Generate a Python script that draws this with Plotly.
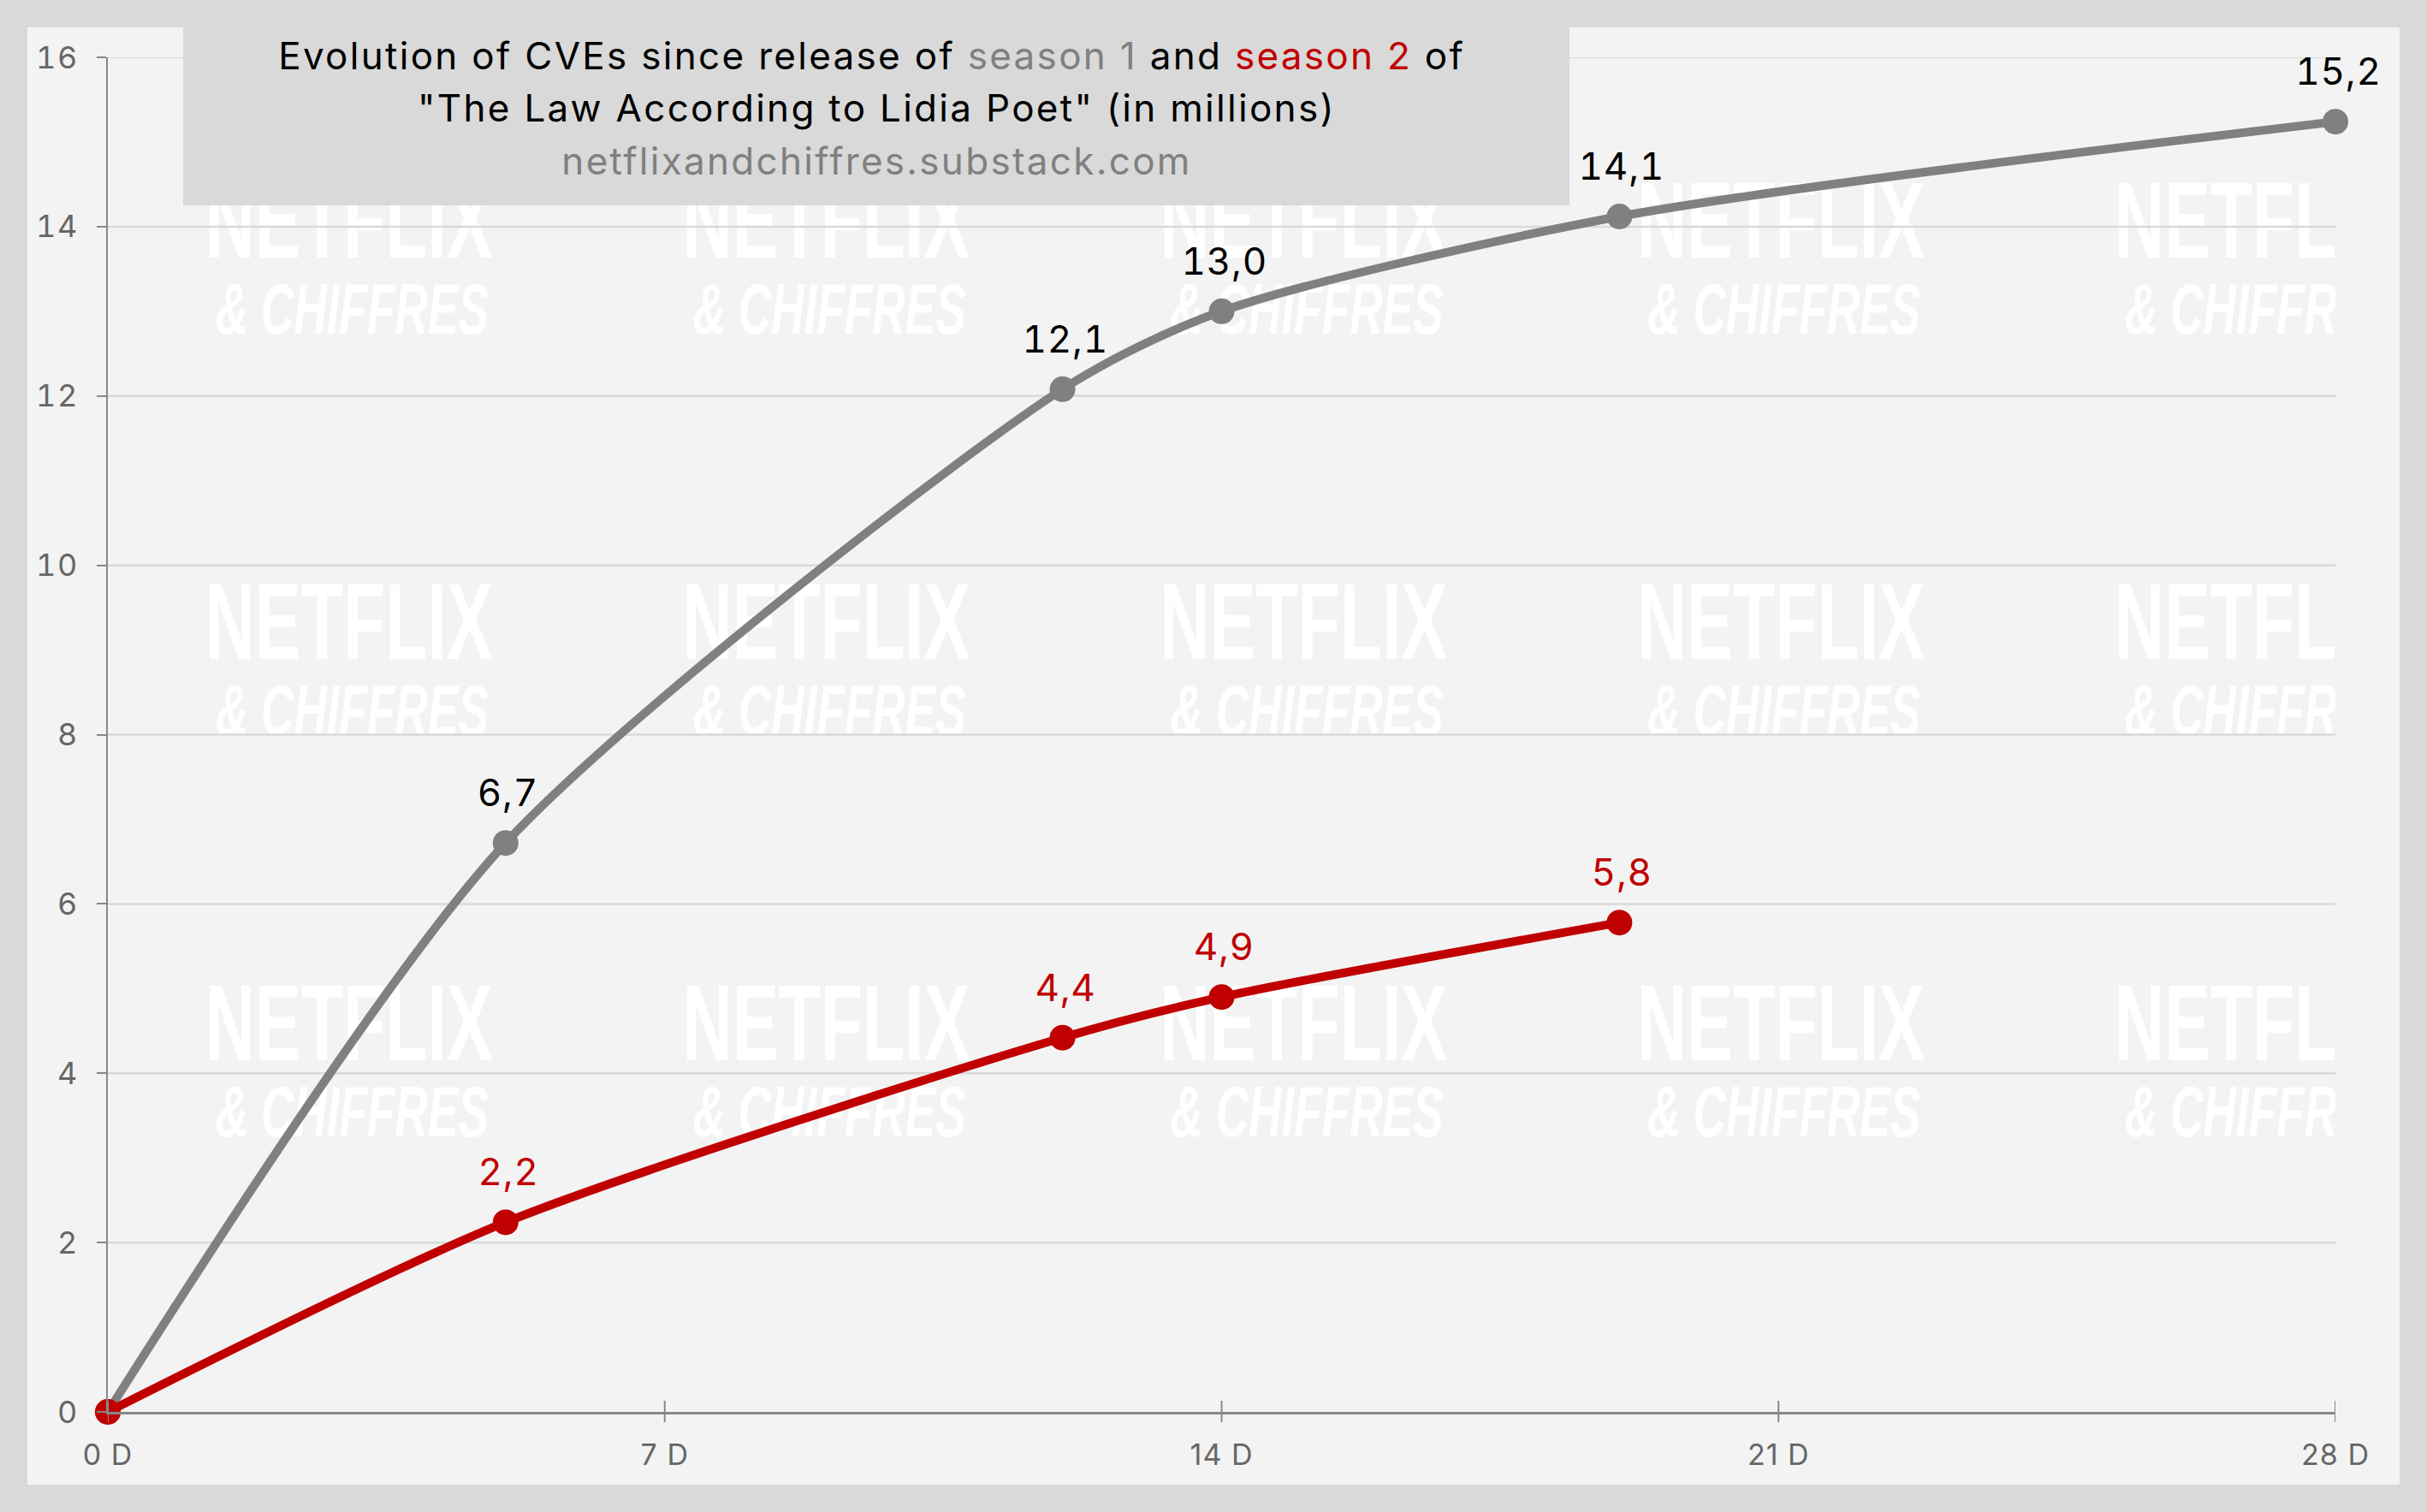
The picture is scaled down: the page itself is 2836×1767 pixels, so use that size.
import plotly.graph_objects as go

W, H = 2836, 1767
L, R, T, B = 126, 2729, 67, 1650

days_s1 = [0, 5, 12, 14, 19, 28]
cve_s1 = [0, 6.72, 12.08, 13.0, 14.12, 15.24]
days_s2 = [0, 5, 12, 14, 19]
cve_s2 = [0, 2.24, 4.42, 4.9, 5.78]
x_ticks = [0, 7, 14, 21, 28]
x_tick_labels = ["0 D", "7 D", "14 D", "21 D", "28 D"]
y_ticks = [0, 2, 4, 6, 8, 10, 12, 14, 16]
wm_cols_top = [3.03, 9.03, 15.03, 21.03, 27.03]
wm_cols_sub = [3.07, 9.07, 15.07, 21.07, 27.07]
wm_rows_top = [13.95, 9.21, 4.47, -0.27]
wm_rows_sub = [12.95, 8.21, 3.47]

GREY = "#808080"
RED = "#c00000"
FONT = "Inter"


def px(x):
    return (x - L) / (R - L)


def py(y):
    return (B - y) / (B - T)


fig = go.Figure()

fig.add_trace(go.Scatter(
    x=[c for c in wm_cols_top for _ in wm_rows_top],
    y=[r for _ in wm_cols_top for r in wm_rows_top],
    text=["NETFLIX"] * (len(wm_cols_top) * len(wm_rows_top)),
    mode="text", textposition="middle center", hoverinfo="skip", showlegend=False,
    textfont=dict(family="Liberation Sans", size=126, color="#ffffff", weight="bold"),
))
fig.add_trace(go.Scatter(
    x=[c for c in wm_cols_sub for _ in wm_rows_sub],
    y=[r for _ in wm_cols_sub for r in wm_rows_sub],
    text=["& CHIFFRES"] * (len(wm_cols_sub) * len(wm_rows_sub)),
    mode="text", textposition="middle center", hoverinfo="skip", showlegend=False,
    textfont=dict(family="Liberation Sans", size=84, color="#ffffff", weight="bold", style="italic"),
))

grid_x, grid_y = [], []
for t in y_ticks[1:]:
    grid_x += [x_ticks[0], x_ticks[-1], None]
    grid_y += [t, t, None]
fig.add_trace(go.Scatter(x=grid_x, y=grid_y, mode="lines", hoverinfo="skip", showlegend=False,
                         line=dict(color="#d9d9d9", width=2.5)))

annotations = []
for name, xs, ys, color, label_color in [
    ("Season 1", days_s1, cve_s1, GREY, "#000000"),
    ("Season 2", days_s2, cve_s2, RED, RED),
]:
    fig.add_trace(go.Scatter(
        x=xs, y=ys, name=name, mode="lines+markers",
        line=dict(color=color, width=10, shape="spline", smoothing=0.75),
        marker=dict(color=color, size=30),
        cliponaxis=False, showlegend=False,
    ))
    for x, y in zip(xs[1:], ys[1:]):
        annotations.append(dict(
            text=f"{y:.1f}".replace(".", ","), x=x, y=y, xref="x", yref="y",
            xanchor="center", yanchor="bottom", yshift=30, xshift=3, showarrow=False,
            font=dict(family=FONT, size=44, color=label_color),
        ))

shapes = [
    dict(type="rect", xref="paper", yref="paper", x0=px(32), x1=px(2804), y0=py(1735), y1=py(32),
         fillcolor="#f3f3f3", line_width=0, layer="below"),
    dict(type="rect", xref="paper", yref="paper", x0=px(214), x1=px(1834), y0=py(240), y1=py(32),
         fillcolor="#d9d9d9", line_width=0, layer="above"),
]
for t in x_ticks:
    shapes.append(dict(type="line", xref="x", x0=t, x1=t, yref="paper", y0=-12, y1=13, ysizemode="pixel",
                       yanchor=0, line=dict(color="#888888", width=2)))

title_lines = [
    ('Evolution of CVEs since release of <span style="color:#808080">season 1</span> and '
     '<span style="color:#c00000">season 2</span> of', "#000000", 1018, 65),
    ('"The Law According to Lidia Poet" (in millions)', "#000000", 1024, 126),
    ("netflixandchiffres.substack.com", "#808080", 1024, 188),
]
annotations += [
    dict(text=t, font=dict(family=FONT, size=44, color=c), xref="paper", yref="paper",
         x=px(xc), y=py(yc), xanchor="center", yanchor="middle", showarrow=False)
    for t, c, xc, yc in title_lines
]

fig.update_layout(
    width=W, height=H, autosize=False,
    margin=dict(l=L, r=W - R, t=T, b=H - B, pad=0),
    paper_bgcolor="#d9d9d9", plot_bgcolor="rgba(0,0,0,0)",
    showlegend=False,
    shapes=shapes, annotations=annotations,
    xaxis=dict(range=[0, 28], tickvals=x_ticks, ticktext=x_tick_labels, showgrid=False, zeroline=False,
               showline=True, linecolor="#888888", linewidth=3, ticks="", ticklabelstandoff=18,
               tickfont=dict(family=FONT, size=34, color="#666666")),
    yaxis=dict(range=[0, 16], tickvals=y_ticks, showgrid=False, zeroline=False,
               showline=True, linecolor="#888888", linewidth=2, ticks="outside", ticklen=11, tickwidth=2,
               ticklabelstandoff=14, tickcolor="#888888", tickfont=dict(family=FONT, size=36, color="#666666")),
)

post = """
document.body.style.margin='0';document.body.style.background='#d9d9d9';
document.querySelectorAll('.annotation-text').forEach(function(t){
  if(/^[0-9]+,[0-9]$/.test(t.textContent)){t.style.letterSpacing='0.8px';t.style.fontVariantNumeric='tabular-nums';}
  else{t.style.letterSpacing='2.3px';}
});
document.querySelectorAll('.xtick text').forEach(function(t){t.style.letterSpacing='1px';});
document.querySelectorAll('.ytick text').forEach(function(t){t.style.letterSpacing='1.5px';t.style.fontVariantNumeric='tabular-nums';});
document.querySelectorAll('.textpoint text').forEach(function(t){
  var s=t.textContent;
  t.setAttribute('lengthAdjust','spacingAndGlyphs');
  t.setAttribute('textLength', s==='NETFLIX' ? '336' : '319');
});
"""
fig.write_html("out.html", config={"displayModeBar": False}, post_script=post)
